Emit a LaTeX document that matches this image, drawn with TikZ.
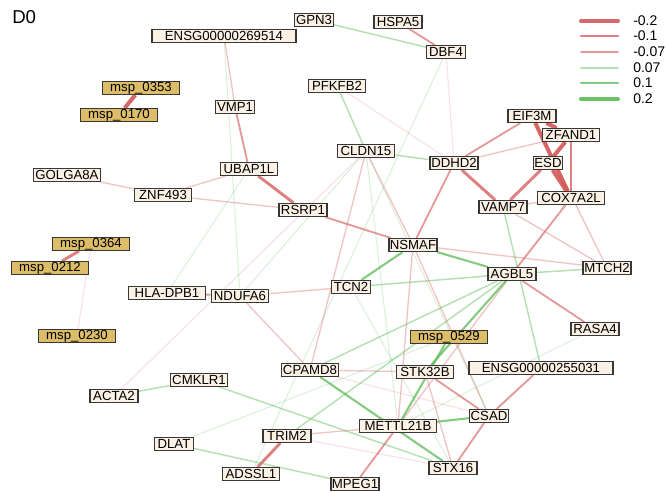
\documentclass[tikz,border=0pt]{standalone}
\usepackage{fontspec}
\setmainfont{Liberation Sans}
\usetikzlibrary{backgrounds}
\definecolor{nodebg}{RGB}{251,241,229}
\definecolor{mspbg}{RGB}{222,189,104}
\definecolor{boxline}{RGB}{55,55,55}
\definecolor{edgered}{RGB}{212,86,86}
\definecolor{edgegreen}{RGB}{92,186,86}
\tikzset{
  gene/.style={draw=boxline,fill=nodebg,line width=0.8pt,inner sep=0pt,
               minimum height=9.75pt,font=\fontsize{9.9}{10}\selectfont},
  msp/.style={gene,fill=mspbg},
  lgd/.style={anchor=west,inner sep=0pt,font=\fontsize{10.5}{11}\selectfont},
  rA/.style={draw=edgered,line width=3pt,draw opacity=.9},
  rB/.style={draw=edgered,line width=2.2pt,draw opacity=.75},
  rC/.style={draw=edgered,line width=1.4pt,draw opacity=.6},
  rD/.style={draw=edgered,line width=1pt,draw opacity=.35},
  rE/.style={draw=edgered,line width=.8pt,draw opacity=.18},
  gA/.style={draw=edgegreen,line width=3pt,draw opacity=.9},
  gB/.style={draw=edgegreen,line width=1.6pt,draw opacity=.75},
  gC/.style={draw=edgegreen,line width=1.1pt,draw opacity=.45},
  gD/.style={draw=edgegreen,line width=.8pt,draw opacity=.22},
}

\begin{document}
\begin{tikzpicture}[x=0.75pt,y=-0.75pt]
  \useasboundingbox (0,0) rectangle (667,492);
  \node[anchor=base west,inner sep=0pt,font=\fontsize{14}{14}\selectfont] (title) at (12,24) {D0};

  % ---------------- nodes ----------------
  \foreach \n/\x/\y/\w/\t in {GPN3/314/20/4/GPN3, HSPA5/398/22/5/HSPA5,
      ENSGa/224/36/15/ENSG00000269514, DBF4/446/52/4/DBF4, VMP1/235/107/4/VMP1,
      PFKFB2/337/86/6/PFKFB2, EIF3M/532/116/5/EIF3M, ZFAND1/571/135/6/ZFAND1,
      GOLGA8A/67/175/7/GOLGA8A, UBAP1L/249/169/6/UBAP1L, CLDN15/366/151/6/CLDN15,
      DDHD2/454/163/5/DDHD2, ESD/548/163/3/ESD, ZNF493/163/195/6/ZNF493,
      RSRP1/303/210/5/RSRP1, COX7A2L/571/198/7/COX7A2L, VAMP7/503/207/5/VAMP7,
      NSMAF/413/245/5/NSMAF, AGBL5/512/274/5/AGBL5, MTCH2/607/268/5/MTCH2,
      HLADPB1/167/293/8/HLA-DPB1, NDUFA6/240/296/6/NDUFA6, TCN2/351/287/4/TCN2,
      RASA4/595/329/5/RASA4, CPAMD8/310/370/6/CPAMD8, STK32B/425/372/6/STK32B,
      ENSGb/541/368/15/ENSG00000255031, ACTA2/114/396/5/ACTA2, CMKLR1/199/380/6/CMKLR1,
      CSAD/489/416/4/CSAD, METTL21B/398/426/8/METTL21B, DLAT/174/444/4/DLAT,
      TRIM2/287/436/5/TRIM2, STX16/453/468/5/STX16, ADSSL1/251/474/6/ADSSL1,
      MPEG1/355/484/5/MPEG1}
    \node[gene,minimum width=\w*7.2pt] (\n) at (\x,\y) {\t};
  \foreach \n/\x/\y/\t in {mspa/141/88/0353, mspb/119/115/0170, mspc/91/244/0364,
      mspd/50/268/0212, mspe/77/336/0230, mspf/449/337/0529}
    \node[msp,minimum width=57.6pt] (\n) at (\x,\y) {msp\_\t};

  % ---------------- edges ----------------
  \begin{scope}[on background layer]
  \foreach \a/\b in {mspa/mspb, EIF3M/ZFAND1, ESD/ZFAND1, EIF3M/COX7A2L, ESD/COX7A2L}
    \draw[rA] (\a) -- (\b);
  \foreach \a/\b in {DDHD2/VAMP7, ESD/VAMP7, UBAP1L/RSRP1, mspc/mspd, ZFAND1/COX7A2L,
      ADSSL1/TRIM2}
    \draw[rB] (\a) -- (\b);
  \foreach \a/\b in {DDHD2/EIF3M, DDHD2/NSMAF, RSRP1/NSMAF, VMP1/UBAP1L, COX7A2L/AGBL5,
      AGBL5/RASA4, HSPA5/DBF4, METTL21B/MPEG1, STX16/CSAD, CSAD/ENSGb, HLADPB1/NDUFA6,
      STK32B/CSAD}
    \draw[rC] (\a) -- (\b);
  \foreach \a/\b in {DDHD2/ZFAND1, VAMP7/COX7A2L, VAMP7/MTCH2, EIF3M/MTCH2, NSMAF/MTCH2,
      UBAP1L/ZNF493, ZNF493/RSRP1, GOLGA8A/ZNF493, NDUFA6/TCN2, NDUFA6/CPAMD8,
      ENSGa/VMP1, CPAMD8/STK32B, STK32B/STX16, TRIM2/METTL21B, NSMAF/METTL21B,
      NSMAF/CSAD, CLDN15/NSMAF, CLDN15/CPAMD8, AGBL5/METTL21B}
    \draw[rD] (\a) -- (\b);
  \foreach \a/\b in {DBF4/DDHD2, PFKFB2/DDHD2, mspc/mspe, ACTA2/CLDN15, TRIM2/STX16,
      CPAMD8/CSAD}
    \draw[rE] (\a) -- (\b);
  \foreach \a/\b in {NSMAF/AGBL5, NSMAF/TCN2, METTL21B/CSAD, AGBL5/STK32B, mspf/METTL21B,
      CPAMD8/STX16}
    \draw[gB] (\a) -- (\b);
  \foreach \a/\b in {CLDN15/PFKFB2, CLDN15/DDHD2, GPN3/DBF4, ACTA2/CMKLR1, VAMP7/ENSGb,
      TCN2/AGBL5, AGBL5/MTCH2, CMKLR1/STX16, DLAT/MPEG1, TRIM2/AGBL5, CPAMD8/AGBL5}
    \draw[gC] (\a) -- (\b);
  \foreach \a/\b in {ENSGa/NDUFA6, HLADPB1/UBAP1L, NDUFA6/CLDN15, DBF4/ADSSL1, DLAT/mspf,
      TCN2/STX16, CLDN15/METTL21B, CLDN15/CSAD, METTL21B/RASA4}
    \draw[gD] (\a) -- (\b);
  \end{scope}

  % ---------------- legend ----------------
  \foreach \k/\y/\s/\t in {1/21/rA/-0.2, 2/36/rB/-0.1, 3/52/rC/-0.07,
      4/68/gC/0.07, 5/83/gB/0.1, 6/99/gA/0.2}
  {
    \node[lgd] (lg\k) at (633,\y) {\t};
    \draw[\s,line cap=round] ([xshift=-39pt]lg\k.west) -- ++(37,0);
  }
\end{tikzpicture}
\end{document}
